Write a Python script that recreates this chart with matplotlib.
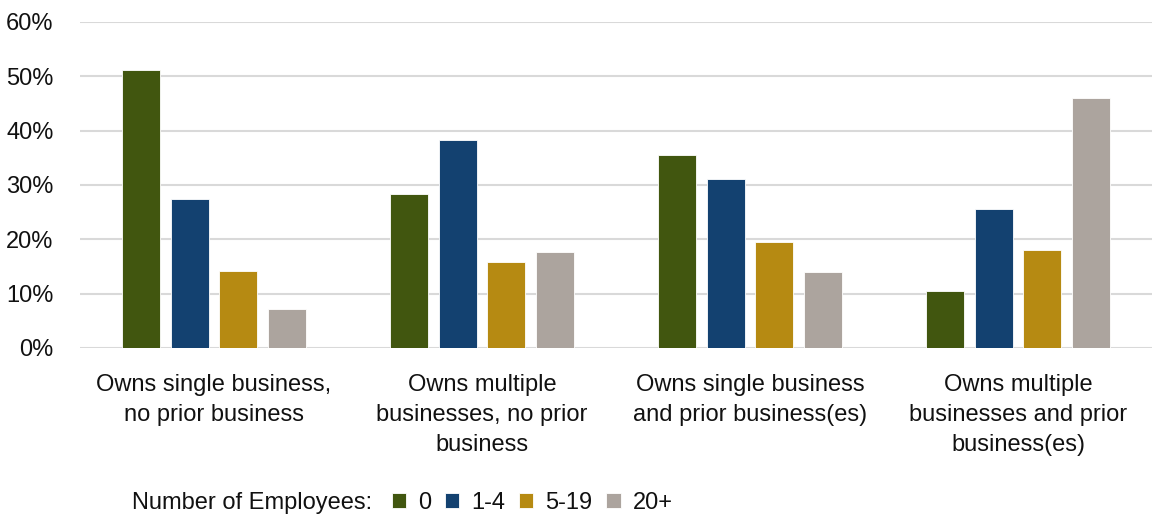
import matplotlib
matplotlib.use('Agg')
import matplotlib.pyplot as plt
import numpy as np

categories = ['Owns single business,\nno prior business',
              'Owns multiple\nbusinesses, no prior\nbusiness',
              'Owns single business\nand prior business(es)',
              'Owns multiple\nbusinesses and prior\nbusiness(es)']
series_names = ['0', '1-4', '5-19', '20+']
emp_0 = [51.1, 28.3, 35.5, 10.4]
emp_1_4 = [27.4, 38.2, 31.1, 25.6]
emp_5_19 = [14.1, 15.8, 19.4, 18.1]
emp_20p = [7.2, 17.7, 14.0, 46.0]
colors = ['#41560F', '#134170', '#B68A12', '#ACA49E']
y_ticks = [0, 10, 20, 30, 40, 50, 60]

plt.rcParams['font.family'] = ['Liberation Sans', 'DejaVu Sans']
plt.rcParams['font.size'] = 17

fig = plt.figure(figsize=(11.54, 5.2), dpi=100)
ax = fig.add_axes([0.0693, 0.331, 0.929, 0.627])

x = np.arange(len(categories))
width = 0.143
step = 0.181
for i, (vals, name) in enumerate(zip([emp_0, emp_1_4, emp_5_19, emp_20p], series_names)):
    ax.bar(x + (i - 1.5) * step, vals, width, color=colors[i], label=name,
           edgecolor='white', linewidth=0.6, zorder=3)

ax.set_xlim(-0.5, len(categories) - 0.5)
ax.set_ylim(0, 60)
ax.set_yticks(y_ticks)
ax.set_yticklabels([f'{t}%' for t in y_ticks])
ax.set_xticks(x)
ax.set_xticklabels(categories, linespacing=1.45)
ax.tick_params(axis='both', length=0, colors='#111111')
ax.tick_params(axis='y', pad=19)
ax.tick_params(axis='x', pad=19)
ax.grid(axis='y', color='#D9D9D9', linewidth=1.5, zorder=0)
for s in ax.spines.values():
    s.set_visible(False)

# legend row: title text followed by the handles, centred as in the original
legend_y = 1 - 503 / 520
title = fig.text(0, legend_y, 'Number of Employees:', ha='left', va='center', color='#111111')
leg = fig.legend(loc='center left', bbox_to_anchor=(0, legend_y), ncol=4, frameon=False,
                 handlelength=0.6, handleheight=0.6, handletextpad=0.5, columnspacing=0.6,
                 borderpad=0, borderaxespad=0, labelcolor='#111111')
fig.canvas.draw()
r = fig.canvas.get_renderer()
w_title = title.get_window_extent(r).width
w_leg = leg.get_window_extent(r).width
gap = 20
start = 402 - (w_title + gap + w_leg) / 2
title.set_x(start / 1154)
leg.set_bbox_to_anchor((( start + w_title + gap) / 1154, legend_y), transform=fig.transFigure)

fig.savefig('out.png', dpi=100)
